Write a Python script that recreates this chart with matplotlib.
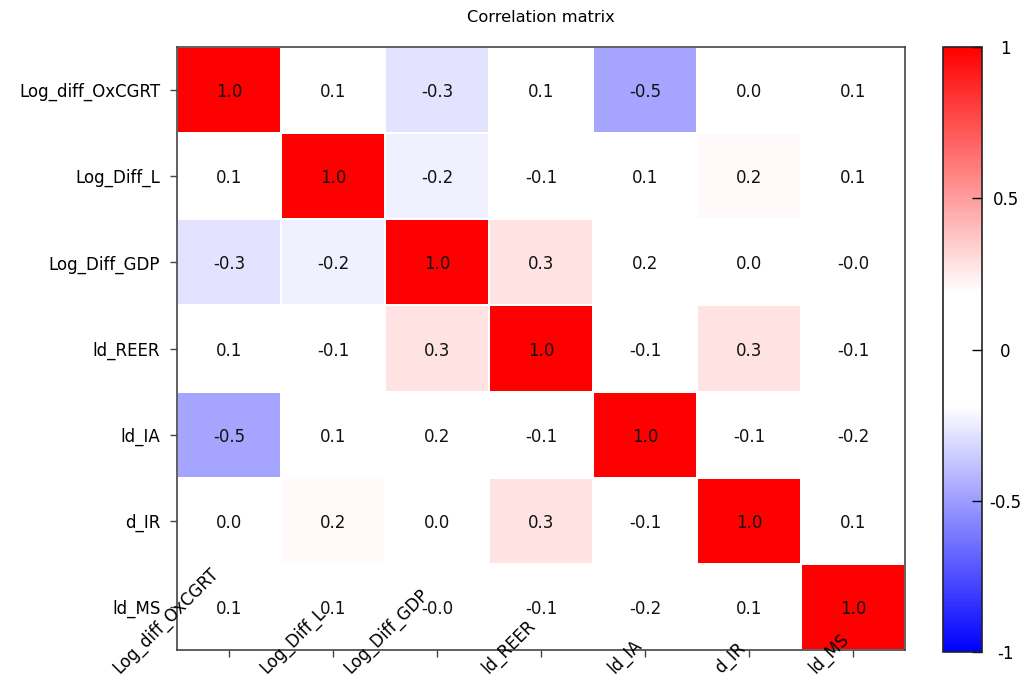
import numpy as np
import matplotlib
matplotlib.use("Agg")
import matplotlib.pyplot as plt
from matplotlib.colors import LinearSegmentedColormap
from matplotlib.transforms import IdentityTransform

variables = ["Log_diff_OxCGRT", "Log_Diff_L", "Log_Diff_GDP", "ld_REER", "ld_IA", "d_IR", "ld_MS"]

row_oxcgrt = [1.00, 0.10, -0.28, 0.10, -0.47, 0.02, 0.10]
row_diff_l = [0.10, 1.00, -0.24, -0.10, 0.10, 0.21, 0.10]
row_gdp = [-0.28, -0.24, 1.00, 0.28, 0.17, 0.02, -0.02]
row_reer = [0.10, -0.10, 0.28, 1.00, -0.10, 0.28, -0.10]
row_ia = [-0.47, 0.10, 0.17, -0.10, 1.00, -0.10, -0.16]
row_ir = [0.02, 0.21, 0.02, 0.28, -0.10, 1.00, 0.10]
row_ms = [0.10, 0.10, -0.02, -0.10, -0.16, 0.10, 1.00]

cbar_ticks = [-1, -0.5, 0, 0.5, 1]
cbar_labels = ["-1", "-0.5", "0", "0.5", "1"]
title = "Correlation matrix"

corr = np.array([row_oxcgrt, row_diff_l, row_gdp, row_reer, row_ia, row_ir, row_ms])
n = len(variables)

plt.rcParams["font.family"] = ["DejaVu Sans"]
plt.rcParams["font.size"] = 12

cmap = LinearSegmentedColormap.from_list(
    "bwr_white", [(0.0, "#0000ff"), (0.405, "#ffffff"), (0.595, "#ffffff"), (1.0, "#ff0000")])

fig = plt.figure(figsize=(10.28, 6.8), dpi=100)
ax = fig.add_axes([177 / 1028, 1 - 650 / 680, 728 / 1028, 603 / 680])
cax = fig.add_axes([943 / 1028, 1 - 652 / 680, 39 / 1028, 605 / 680])

mesh = ax.pcolormesh(np.arange(n + 1), np.arange(n + 1), corr, cmap=cmap, vmin=-1, vmax=1,
                     edgecolors="white", linewidth=1.2)
ax.set_xlim(0, n)
ax.set_ylim(n, 0)

for i in range(n):
    for j in range(n):
        ax.text(j + 0.5, i + 0.5, f"{corr[i, j]:.1f}", ha="center", va="center_baseline",
                fontsize=12, color="#111111")

ax.set_yticks(np.arange(n) + 0.5)
ax.set_yticklabels(variables, fontsize=12)
ax.set_xticks(np.arange(n) + 0.5)
ax.set_xticklabels([])
ax.tick_params(axis="both", length=5, width=1, color="#444444", pad=7)
for s in ax.spines.values():
    s.set_color("#444444")
    s.set_linewidth(1.2)

ax.set_title(title, fontsize=11.7, pad=18)

cb = fig.colorbar(mesh, cax=cax, ticks=cbar_ticks)
cb.ax.set_yticklabels(cbar_labels, fontsize=12, ha="center")
cb.ax.tick_params(direction="in", length=7, width=1, pad=17)
cb.outline.set_edgecolor("#222222")
cb.outline.set_linewidth(1.2)

# rotated x labels, placed as in the reference
renderer = fig.canvas.get_renderer()
for j, name in enumerate(variables):
    tx = ax.transData.transform((j + 0.5, 0))[0]
    t = fig.text(0, 0, name, fontsize=12, transform=IdentityTransform())
    w = t.get_window_extent(renderer).width
    t.set_position((tx - 0.78 * w, 680 - 674))
    t.set_rotation(45)
    t.set_rotation_mode("anchor")
    t.set_ha("left")
    t.set_va("baseline")

fig.savefig("out.png", dpi=100)
